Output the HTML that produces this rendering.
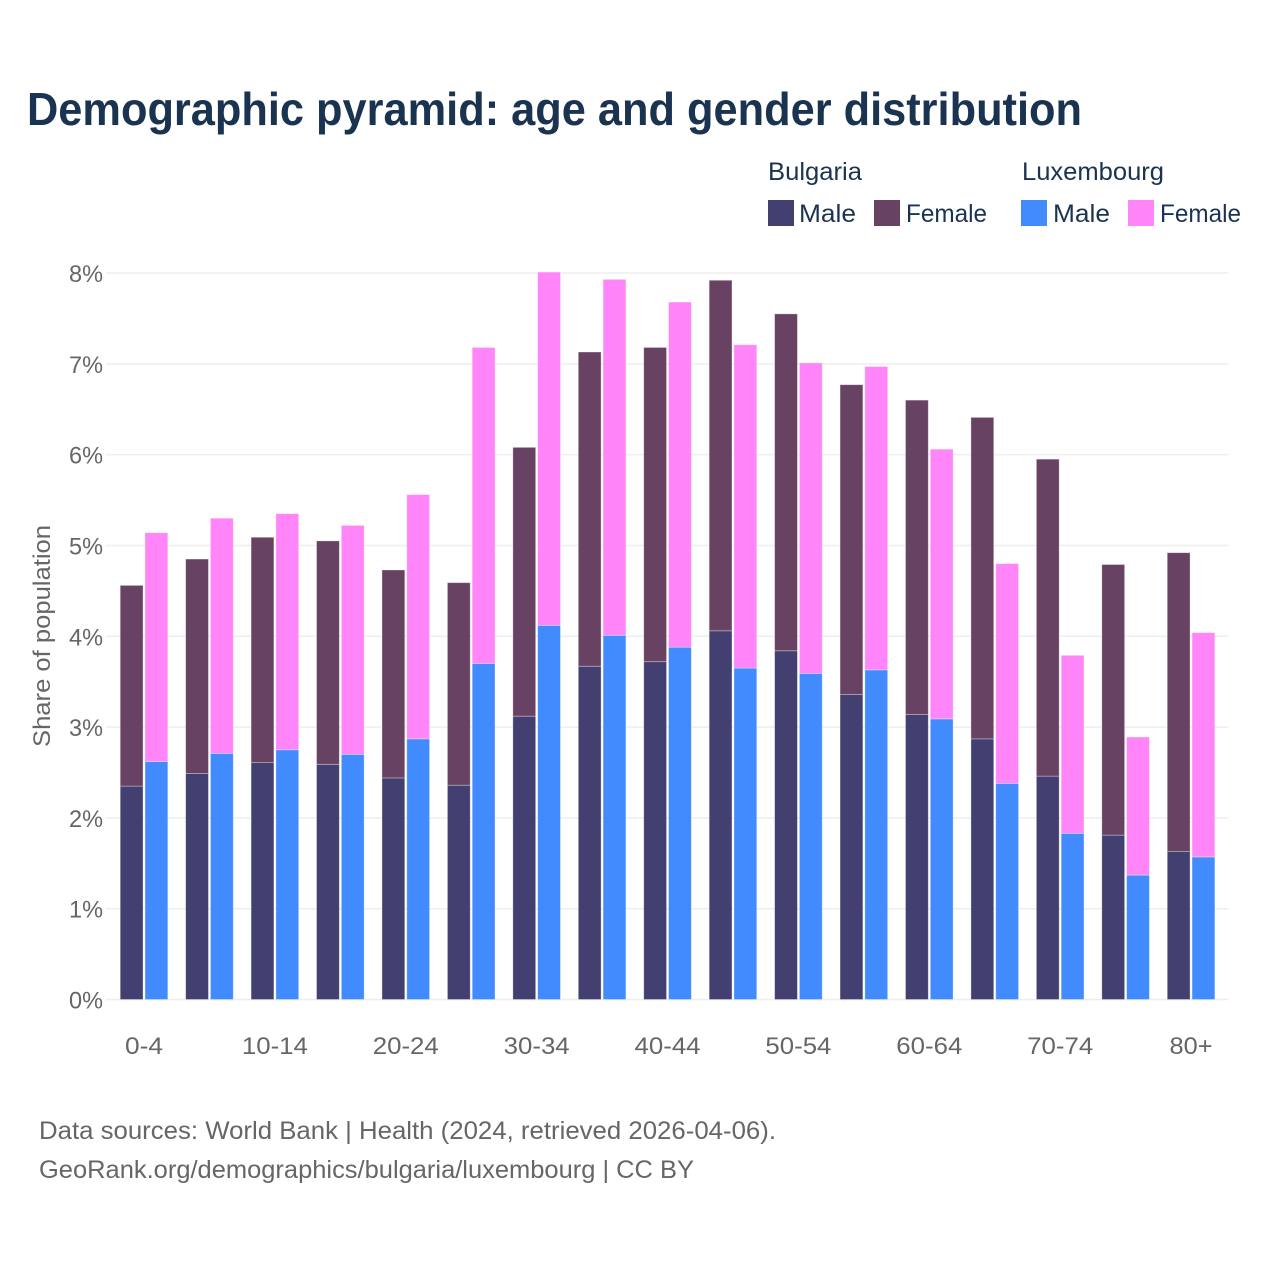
<!DOCTYPE html>
<html lang="en">
<head>
<meta charset="utf-8">
<title>Demographic pyramid</title>
<style>
html,body{margin:0;padding:0;background:#fff;}
svg{display:block;font-family:"Liberation Sans",sans-serif;}
</style>
</head>
<body>
<svg id="chart" xmlns="http://www.w3.org/2000/svg" width="1280" height="1280" viewBox="0 0 1280 1280">
  <rect x="0" y="0" width="1280" height="1280" fill="#ffffff"/>
  <text x="27" y="125" font-size="46" font-weight="700" fill="#1a3350" textLength="1055" lengthAdjust="spacingAndGlyphs">Demographic pyramid: age and gender distribution</text>
  <g font-size="25" fill="#1a3350">
    <text x="768" y="180" textLength="94" lengthAdjust="spacingAndGlyphs">Bulgaria</text>
    <text x="1022" y="180" textLength="142" lengthAdjust="spacingAndGlyphs">Luxembourg</text>
    <rect x="768" y="200" width="26" height="26" fill="#433f70"/>
    <text x="799" y="222" textLength="57" lengthAdjust="spacingAndGlyphs">Male</text>
    <rect x="874" y="200" width="26" height="26" fill="#684263"/>
    <text x="906" y="222" textLength="81" lengthAdjust="spacingAndGlyphs">Female</text>
    <rect x="1021" y="200" width="26" height="26" fill="#418bff"/>
    <text x="1053" y="222" textLength="57" lengthAdjust="spacingAndGlyphs">Male</text>
    <rect x="1128" y="200" width="26" height="26" fill="#ff85f8"/>
    <text x="1160" y="222" textLength="81" lengthAdjust="spacingAndGlyphs">Female</text>
  </g>
  <g id="grid"></g>
  <g id="yticks"></g>
  <g id="bars"></g>
  <g id="xticks"></g>
  <text transform="translate(50,636) rotate(-90)" text-anchor="middle" font-size="24" fill="#666666" textLength="222" lengthAdjust="spacingAndGlyphs">Share of population</text>
  <g font-size="25" fill="#666666">
    <text x="39" y="1139" textLength="737" lengthAdjust="spacingAndGlyphs">Data sources: World Bank | Health (2024, retrieved 2026-04-06).</text>
    <text x="39" y="1178" textLength="655" lengthAdjust="spacingAndGlyphs">GeoRank.org/demographics/bulgaria/luxembourg | CC BY</text>
  </g>
</svg>
<script>
const ageGroups = ["0-4","5-9","10-14","15-19","20-24","25-29","30-34","35-39","40-44","45-49","50-54","55-59","60-64","65-69","70-74","75-79","80+"];
const bulgariaMale = [2.35,2.49,2.61,2.59,2.44,2.36,3.12,3.67,3.72,4.06,3.84,3.36,3.14,2.87,2.46,1.81,1.63];
const bulgariaFemale = [2.21,2.36,2.48,2.46,2.29,2.23,2.96,3.46,3.46,3.86,3.71,3.41,3.46,3.54,3.49,2.98,3.29];
const luxembourgMale = [2.62,2.71,2.75,2.70,2.87,3.70,4.12,4.01,3.88,3.65,3.59,3.63,3.09,2.38,1.83,1.37,1.57];
const luxembourgFemale = [2.52,2.59,2.60,2.52,2.69,3.48,3.89,3.92,3.80,3.56,3.42,3.34,2.97,2.42,1.96,1.52,2.47];
const yTicks = [0,1,2,3,4,5,6,7,8];
const xTickLabels = ["0-4","10-14","20-24","30-34","40-44","50-54","60-64","70-74","80+"];

const NS = "http://www.w3.org/2000/svg";
const plotBottom = 999.5, plotTop = 273;
const yMax = 8;
const bandStart = 111.3, bandStep = 65.44;
const barW = 22.8, barGap = 2;
function yScale(v){ return plotBottom - (v / yMax) * (plotBottom - plotTop); }
function xCenter(i){ return bandStart + bandStep * (i + 0.5); }
function make(tag, attrs, parent){
  const el = document.createElementNS(NS, tag);
  for (const k in attrs) el.setAttribute(k, attrs[k]);
  parent.appendChild(el);
  return el;
}
const gridG = document.getElementById("grid");
const yG = document.getElementById("yticks");
yTicks.forEach(function(t){
  const line = make("line", {x1:106, x2:1228, y1:yScale(t), y2:yScale(t), stroke:"#eeeeee", "stroke-width":1.5}, gridG);
  
  
  const label = make("text", {x:103, y:yScale(t)+9, "text-anchor":"end", "font-size":24, fill:"#666666", textLength:34, lengthAdjust:"spacingAndGlyphs"}, yG);
  label.textContent = t + "%";
  
  
});
const barsG = document.getElementById("bars");
function drawBar(x, base, val, fill, name){
  const yTop = yScale(base + val), yBot = yScale(base);
  const r = make("rect", {x:x, y:yTop, width:barW, height:yBot - yTop, fill:fill, stroke:"#ffffff", "stroke-opacity":0.4, "stroke-width":0.8}, barsG);
  
  
}
ageGroups.forEach(function(g, i){
  const c = xCenter(i);
  const xL = c - barGap / 2 - barW;
  const xR = c + barGap / 2;
  drawBar(xL, 0, bulgariaMale[i], "#433f70", "bar-bulgaria-male");
  drawBar(xL, bulgariaMale[i], bulgariaFemale[i], "#684263", "bar-bulgaria-female");
  drawBar(xR, 0, luxembourgMale[i], "#418bff", "bar-luxembourg-male");
  drawBar(xR, luxembourgMale[i], luxembourgFemale[i], "#ff85f8", "bar-luxembourg-female");
});
const xG = document.getElementById("xticks");
xTickLabels.forEach(function(lab){
  const i = ageGroups.indexOf(lab);
  const w = lab.length >= 5 ? 66 : (lab === "80+" ? 43 : 38);
  const t = make("text", {x:xCenter(i), y:1054, "text-anchor":"middle", "font-size":24, fill:"#666666", textLength:w, lengthAdjust:"spacingAndGlyphs"}, xG);
  t.textContent = lab;
  
  
});
</script>
</body>
</html>
